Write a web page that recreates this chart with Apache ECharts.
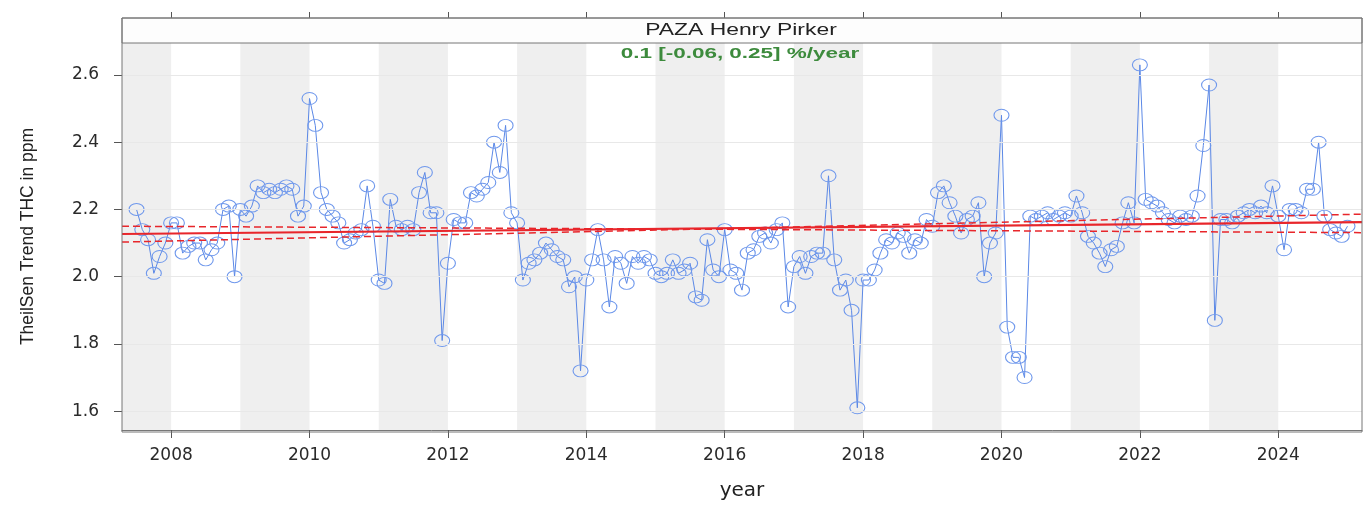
<!DOCTYPE html>
<html lang="en">
<head>
<meta charset="UTF-8">
<title>TheilSen THC</title>
<style>
  body { margin: 0; background: #fff; }
  #chart { width: 1364px; height: 506px; }
</style>
</head>
<body>
<div id="chart"></div>
<script src="https://cdn.jsdelivr.net/npm/echarts@6/dist/echarts.min.js"></script>
<script>
const chart = echarts.init(document.getElementById('chart'));

// monthly THC means (ppm), first value is Jul 2007, one row per year
const startYear = 2007;
const startMonth = 7;
const thc = [
  2.20, 2.14, 2.11, 2.01, 2.06, 2.10,
  2.16, 2.16, 2.07, 2.09, 2.10, 2.10, 2.05, 2.08, 2.10, 2.20, 2.21, 2.00,
  2.20, 2.18, 2.21, 2.27, 2.25, 2.26, 2.25, 2.26, 2.27, 2.26, 2.18, 2.21,
  2.53, 2.45, 2.25, 2.20, 2.18, 2.16, 2.10, 2.11, 2.13, 2.14, 2.27, 2.15,
  1.99, 1.98, 2.23, 2.15, 2.14, 2.15, 2.14, 2.25, 2.31, 2.19, 2.19, 1.81,
  2.04, 2.17, 2.16, 2.16, 2.25, 2.24, 2.26, 2.28, 2.40, 2.31, 2.45, 2.19,
  2.16, 1.99, 2.04, 2.05, 2.07, 2.10, 2.08, 2.06, 2.05, 1.97, 2.00, 1.72,
  1.99, 2.05, 2.14, 2.05, 1.91, 2.06, 2.04, 1.98, 2.06, 2.04, 2.06, 2.05,
  2.01, 2.00, 2.01, 2.05, 2.01, 2.02, 2.04, 1.94, 1.93, 2.11, 2.02, 2.00,
  2.14, 2.02, 2.01, 1.96, 2.07, 2.08, 2.12, 2.13, 2.10, 2.14, 2.16, 1.91,
  2.03, 2.06, 2.01, 2.06, 2.07, 2.07, 2.30, 2.05, 1.96, 1.99, 1.90, 1.61,
  1.99, 1.99, 2.02, 2.07, 2.11, 2.10, 2.13, 2.12, 2.07, 2.11, 2.10, 2.17,
  2.15, 2.25, 2.27, 2.22, 2.18, 2.13, 2.17, 2.18, 2.22, 2.00, 2.10, 2.13,
  2.48, 1.85, 1.76, 1.76, 1.70, 2.18, 2.17, 2.18, 2.19, 2.17, 2.18, 2.19,
  2.18, 2.24, 2.19, 2.12, 2.10, 2.07, 2.03, 2.08, 2.09, 2.16, 2.22, 2.16,
  2.63, 2.23, 2.22, 2.21, 2.19, 2.17, 2.16, 2.18, 2.17, 2.18, 2.24, 2.39,
  2.57, 1.87, 2.17, 2.17, 2.16, 2.18, 2.19, 2.20, 2.19, 2.21, 2.19, 2.27,
  2.18, 2.08, 2.20, 2.20, 2.19, 2.26, 2.26, 2.40, 2.18, 2.14, 2.13, 2.12,
  2.15
];

const yearTicks = [2008, 2010, 2012, 2014, 2016, 2018, 2020, 2022, 2024];
const valueTicks = [1.6, 1.8, 2.0, 2.2, 2.4, 2.6];
const shadedYears = [2007, 2009, 2011, 2013, 2015, 2017, 2019, 2021, 2023];

// Theil-Sen trend and its 95% bounds, at the two ends of the axis
const trendX = [2007.29, 2025.21];
const trendMid = [2.127, 2.162];
const trendHigh = [2.103, 2.186];
const trendLow = [2.150, 2.131];

const siteName = 'PAZA Henry Pirker';
const slopeText = '0.1 [-0.06, 0.25] %/year';

const xMin = 2007.29, xMax = 2025.21;
const yMin = 1.544, yMax = 2.695;
const font = 'Liberation Sans, Arial, sans-serif';
const wide = 'DejaVu Sans, sans-serif';
const red = '#e8262b';

const points = thc.map((v, i) => [startYear + (startMonth - 1 + i) / 12, v]);

function trendLine(arr, width, dash) {
    return [
        { coord: [trendX[0], arr[0]], lineStyle: { color: red, width: width, type: dash, opacity: 1 } },
        { coord: [trendX[1], arr[1]] }
    ];
}

const option = {
    animation: false,
    grid: { left: 122, right: 2, top: 43, bottom: 74 },
    xAxis: [
        {
            type: 'value', min: xMin, max: xMax, position: 'bottom',
            axisLine: { show: true, lineStyle: { color: '#777' } },
            axisTick: { show: true, customValues: yearTicks, length: 8, lineStyle: { color: '#555' } },
            axisLabel: {
                customValues: yearTicks, margin: 17, fontSize: 17, color: '#2a2a2a', fontFamily: wide,
                formatter: v => String(Math.round(v))
            },
            splitLine: { show: false },
            name: 'year', nameLocation: 'middle', nameGap: 51,
            nameTextStyle: { fontSize: 20, color: '#222', fontFamily: wide }
        },
        {
            type: 'value', min: xMin, max: xMax, position: 'top', offset: 25,
            axisLine: { show: true, lineStyle: { color: '#777' } },
            axisTick: { show: true, customValues: yearTicks, length: 6, lineStyle: { color: '#555' } },
            axisLabel: { show: false },
            splitLine: { show: false }
        }
    ],
    yAxis: {
        type: 'value', min: yMin, max: yMax,
        axisLine: { show: true, lineStyle: { color: '#777' } },
        axisTick: { show: true, customValues: valueTicks, length: 8, lineStyle: { color: '#555' } },
        axisLabel: {
            customValues: valueTicks, margin: 23, fontSize: 17, color: '#2a2a2a', fontFamily: wide,
            formatter: v => v.toFixed(1)
        },
        splitLine: { show: false },
        name: 'TheilSen Trend THC in ppm', nameLocation: 'middle', nameGap: 85,
        nameTextStyle: { fontSize: 17.5, color: '#222', fontFamily: font }
    },
    graphic: [
        {
            type: 'rect', shape: { x: 122, y: 18, width: 1240, height: 414 },
            style: { fill: 'none', stroke: '#777', lineWidth: 1 }, z: 50
        },
        {
            type: 'rect', shape: { x: 122, y: 18, width: 1240, height: 25 },
            style: { fill: '#fdfdfd', stroke: '#777', lineWidth: 1 }, z: 49
        },
        {
            type: 'text', x: 741, y: 31, z: 51, scaleX: 1.43,
            style: { text: siteName, fontSize: 16, fill: '#222', fontFamily: font, align: 'center', verticalAlign: 'middle' }
        },
        {
            type: 'text', x: 740, y: 54, z: 51, scaleX: 1.45,
            style: { text: slopeText, fontSize: 15.5, fontWeight: 'bold', fill: '#3d8b3d', fontFamily: font, align: 'center', verticalAlign: 'middle' }
        }
    ],
    series: [
        {
            // year shading and horizontal grid
            type: 'line', data: [], silent: true, z: 1,
            markArea: {
                silent: true,
                itemStyle: { color: '#efefef' },
                data: shadedYears.map(y => [{ xAxis: Math.max(y, xMin) }, { xAxis: Math.min(y + 1, xMax) }])
            },
            markLine: {
                silent: true, symbol: 'none', label: { show: false },
                lineStyle: { color: '#e8e8e8', width: 1, type: 'solid' },
                data: valueTicks.map(v => ({ yAxis: v }))
            }
        },
        {
            type: 'line', data: points, z: 3,
            symbol: 'circle', symbolSize: [15, 12],
            itemStyle: { color: 'rgba(255,255,255,0)', borderColor: '#6f98ec', borderWidth: 1 },
            lineStyle: { color: '#5b88e6', width: 1 }
        },
        {
            // trend lines on top of the data
            type: 'line', data: [], silent: true, z: 5,
            markLine: {
                silent: true, symbol: 'none', label: { show: false },
                emphasis: { disabled: true },
                data: [
                    trendLine(trendHigh, 1.5, [7, 4]),
                    trendLine(trendLow, 1.5, [7, 4]),
                    trendLine(trendMid, 2.2, 'solid')
                ]
            }
        }
    ]
};

chart.setOption(option);
</script>
</body>
</html>
